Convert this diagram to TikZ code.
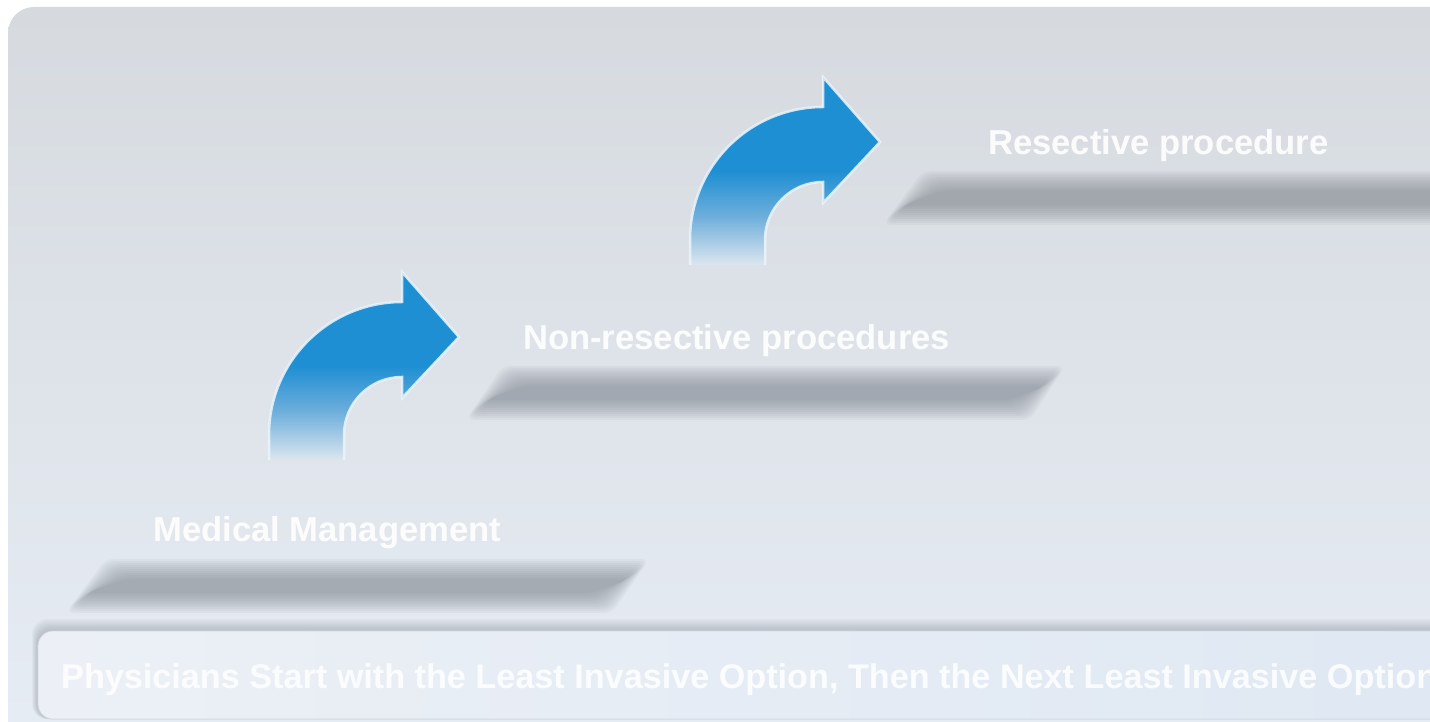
\documentclass[tikz,border=0pt]{standalone}
\usepackage{fontspec}
\setmainfont{Liberation Sans}

\definecolor{panelTop}{HTML}{D6DADF}
\definecolor{panelBot}{HTML}{E7EDF5}
\definecolor{barLeft}{HTML}{ECF0F6}
\definecolor{barRight}{HTML}{DFE8F3}
\definecolor{barEdge}{HTML}{D3D9E1}
\definecolor{arrBlue}{HTML}{1E8FD3}
\definecolor{arrMid}{HTML}{6DAEDB}
\definecolor{arrPale}{HTML}{DCE6EF}
\definecolor{arrRim}{HTML}{EAF5FC}
\definecolor{shadeGray}{HTML}{7D838C}

% blue body that fades out towards the foot of the arrow
\pgfdeclareverticalshading{arrowfade}{100bp}{color(0bp)=(arrPale); color(25bp)=(arrPale); color(38bp)=(arrMid); color(50bp)=(arrBlue); color(100bp)=(arrBlue)}

% soft shadow: top y, bottom y, top-left x, top-right x, bottom-left x, bottom-right x
\newcommand\softshadow[6]{%
  \foreach \d in {12,10,8,6,4,2,0,-2,-4,-6,-8}{%
    \fill[shadeGray, opacity=0.075, rounded corners=8pt]
      ({#3-(\d)},{#1+(\d)}) -- ({#4+(\d)},{#1+(\d)}) --
      ({#6+(\d)},{#2-(\d)}) -- ({#5-(\d)},{#2-(\d)}) -- cycle;
  }%
}

\tikzset{
  lbl/.style={text=white, text opacity=0.9, inner sep=0pt, anchor=base west,
    font=\fontsize{34.6}{40}\selectfont\bfseries},
  bentarrow/.pic={
    \shade[shading=arrowfade]
      (-133,-25) -- (-133,0) arc[start angle=180, end angle=90, radius=133pt]
      -- (0,163) -- (57,98) -- (0,37) -- (0,58)
      arc[start angle=90, end angle=180, radius=58pt] -- (-58,-25) -- cycle;
    \draw[arrRim, opacity=0.85, line width=2.5pt, line join=miter]
      (-133,-25) -- (-133,0) arc[start angle=180, end angle=90, radius=133pt]
      -- (0,163) -- (57,98) -- (0,37) -- (0,58)
      arc[start angle=90, end angle=180, radius=58pt] -- (-58,-25);
  }
}

\begin{document}
\begin{tikzpicture}[x=1pt,y=1pt]
\clip (0,0) rectangle (1430,721);
\fill[white] (0,0) rectangle (1430,721);

% main panel
\shade[top color=panelTop, bottom color=panelBot, rounded corners=26pt]
  (8,-40) rectangle (1480,714);

% shadows under the three steps
\softshadow{150}{120}{118}{637}{78}{600}
\softshadow{343}{313}{515}{1053}{478}{1018}
\softshadow{538}{508}{935}{1480}{895}{1450}

% bent arrows between the steps
\pic at (402,286) {bentarrow};
\pic at (823,481) {bentarrow};

% step labels
\node[lbl] (med) at (153,179) {Medical Management};
\node[lbl] (nonres) at (523,371) {Non-resective procedures};
\node[lbl] (res) at (988,566) {Resective procedure};

% bottom banner with its soft top shadow
\foreach \d in {1,...,10}{
  \fill[shadeGray, opacity=0.045, rounded corners=15pt]
    ({38-0.6*\d},2) rectangle (1480,{90+1.2*\d});
}
\shade[left color=barLeft, right color=barRight, rounded corners=15pt]
  (38,2) rectangle (1480,90);
\draw[barEdge, line width=0.8pt, rounded corners=15pt]
  (38,2) rectangle (1480,90);
\node[lbl, text opacity=0.85, font=\fontsize{34.2}{40}\selectfont\bfseries] (note) at (61,33)
  {Physicians Start with the Least Invasive Option, Then the Next Least Invasive Option};
\end{tikzpicture}
\end{document}
